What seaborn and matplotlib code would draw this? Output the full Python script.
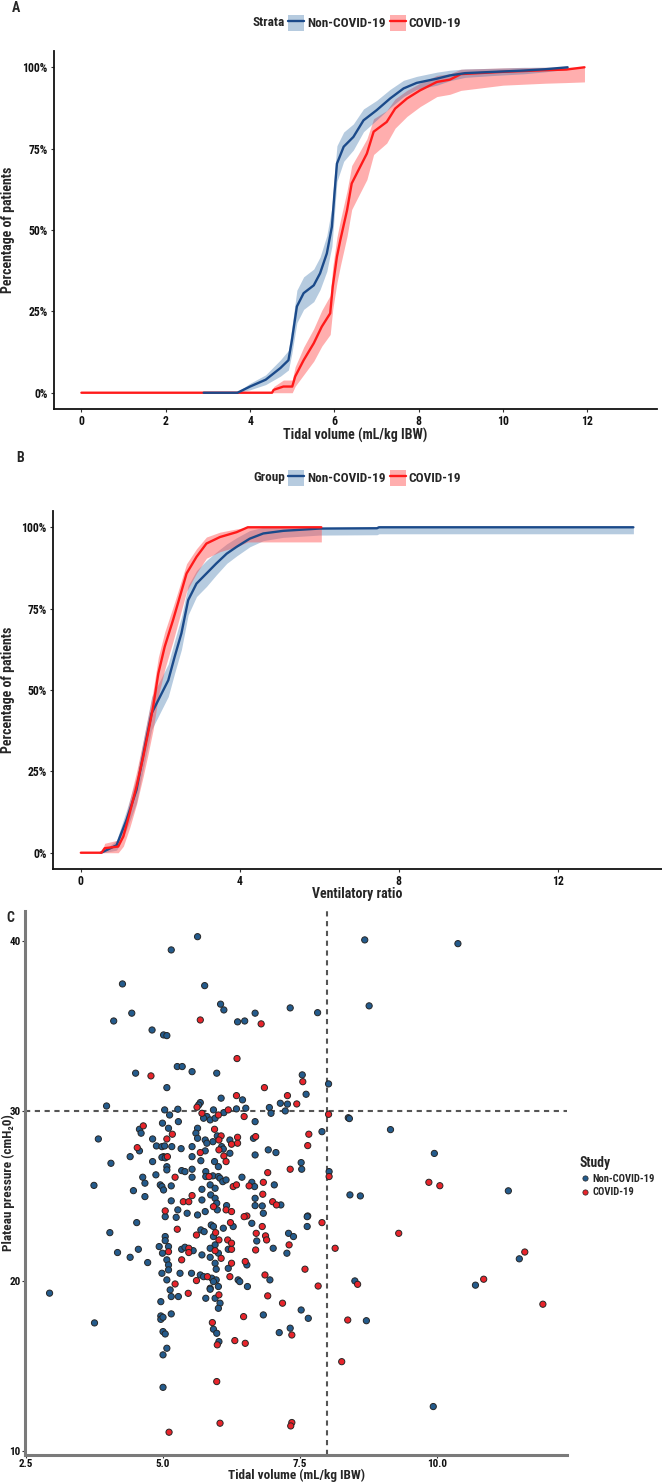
import matplotlib
matplotlib.use("Agg")
import numpy as np
import pandas as pd
import matplotlib.pyplot as plt
import seaborn as sns
from matplotlib.lines import Line2D
from matplotlib.patches import Patch
from matplotlib import font_manager as fm

# ---------------- Panel A: tidal volume cumulative curves (%) ----------------
a_nc_x = [2.9, 3.7, 4.0, 4.37, 4.72, 4.91, 4.99, 5.11, 5.27, 5.51, 5.66, 5.82, 5.94, 6.0, 6.06,
          6.22, 6.45, 6.69, 7.0, 7.32, 7.64, 7.95, 8.43, 8.74, 9.1, 9.8, 10.5, 11.0, 11.53]
a_nc_y = [0, 0, 1.9, 4, 7.6, 10, 16, 26.5, 30.6, 33, 36.7, 42.8, 51, 61, 70.4, 75.6, 78.6, 83.7,
          86.8, 90.4, 93.5, 95.2, 96.5, 97.5, 98.2, 98.6, 99, 99.4, 100]
a_nc_lo = [0, 0, 0.9, 2.5, 5.1, 7, 12, 21.5, 25.6, 28, 31.7, 37.3, 45, 55, 64.9, 71.1, 74.6, 80.2,
           83.8, 87.6, 91, 93.2, 94.5, 95.9, 96.9, 97.5, 98, 98.6, 99.4]
a_nc_hi = [0, 0.3, 2.9, 5.5, 10.1, 13, 20, 31.5, 35.6, 38, 41.7, 48.3, 57, 67, 75.9, 80.1, 82.6,
           87.2, 89.8, 93.2, 96, 97.2, 98.5, 99.1, 99.5, 99.7, 100, 100, 100]

a_cv_x = [0, 4.52, 4.56, 4.79, 5.0, 5.07, 5.27, 5.51, 5.70, 5.90, 5.96, 6.06, 6.14, 6.3, 6.41,
          6.57, 6.77, 6.93, 7.24, 7.44, 7.72, 8.03, 8.43, 8.74, 9.0, 10.0, 11.0, 11.5, 11.93]
a_cv_y = [0, 0, 0.9, 1.9, 1.9, 5, 10, 15.2, 20.3, 24.4, 32.6, 41.8, 46.9, 56.1, 64.3, 68.4, 73.5,
          80.2, 83.2, 87.3, 90.4, 92.9, 95.5, 96.2, 97.9, 98.6, 99.1, 99.3, 100]
a_cv_lo = [0, 0, 0, 0, 0, 2, 5.5, 9.7, 14.3, 17.9, 25.6, 33.8, 38.9, 48.1, 56.3, 60.4, 65.5, 73.2,
           76.7, 81.3, 84.9, 87.9, 91, 91.7, 92.9, 94.5, 95.1, 95.3, 95.5]
a_cv_hi = [0, 0, 1.9, 3.9, 3.9, 8, 14, 19.7, 25.3, 29.9, 38.6, 47.8, 52.9, 62.1, 69.8, 73.4, 78,
           84.2, 86.7, 90.3, 92.9, 95.1, 97.5, 98, 99.4, 99.8, 100, 100, 100]

# ---------------- Panel B: ventilatory ratio cumulative curves (%) ----------------
b_nc_x = [0.5, 0.56, 0.9, 1.15, 1.40, 1.61, 1.78, 1.99, 2.2, 2.36, 2.53, 2.7, 2.91, 3.16, 3.41,
          3.67, 3.92, 4.25, 4.59, 5.09, 6.0, 7.45, 7.5, 13.9]
b_nc_y = [0, 0.3, 2.3, 10.1, 19.3, 32.6, 42.8, 47.9, 53, 60.2, 67.4, 77.6, 82.7, 85.8, 88.9, 91.9,
          94, 96.5, 98.1, 98.9, 99.6, 99.7, 100, 100]
b_nc_lo = [0, 0, 0.8, 7.1, 15.3, 28.1, 37.8, 42.9, 48, 55.2, 62.4, 73.1, 78.7, 81.8, 85.4, 88.9,
           91.2, 94, 95.9, 96.9, 97.6, 97.7, 98, 98]
b_nc_hi = [0, 0.6, 3.8, 13.1, 23.3, 37.1, 47.8, 52.9, 58, 65.2, 72.4, 82.1, 86.7, 89.8, 92.4, 94.9,
           96.8, 99, 100, 100, 100, 100, 100, 100]

b_cv_x = [0, 0.52, 0.6, 0.94, 1.07, 1.23, 1.40, 1.57, 1.69, 1.82, 1.95, 2.11, 2.32, 2.49, 2.66,
          2.91, 3.16, 3.5, 3.92, 4.2, 6.05]
b_cv_y = [0, 0, 1.4, 1.9, 5, 12.2, 20.3, 29.5, 36.7, 44.9, 55.1, 63.3, 71.5, 78.6, 85.8, 90.9, 95,
          97, 98.5, 100, 100]
b_cv_lo = [0, 0, 0, 0, 2, 7.7, 14.8, 23.5, 30.2, 37.9, 48.1, 56.3, 65, 72.6, 80.3, 85.9, 90.5,
           92.5, 94, 95.5, 95.5]
b_cv_hi = [0, 0, 2.9, 3.9, 8, 16.2, 24.8, 34.5, 41.7, 49.9, 60.1, 67.8, 75.5, 82.1, 88.8, 93.4,
           97, 98.5, 99.5, 100, 100]

pct_ticks = [0, 25, 50, 75, 100]
pct_labels = ["0%", "25%", "50%", "75%", "100%"]
a_xticks = [0, 2, 4, 6, 8, 10, 12]
b_xticks = [0, 4, 8, 12]

# ---------------- Panel C: plateau pressure vs tidal volume ----------------
nc_tv = [5.63, 5.15, 8.68, 10.38, 4.26, 5.76, 8.76, 6.05, 6.11, 7.32, 7.82, 4.43, 4.10, 6.36, 6.49,
         6.68, 4.80, 5.01, 5.07, 4.50, 5.26, 5.35, 5.53, 5.98, 7.54, 5.07, 7.61, 8.02, 6.45, 6.06,
         3.97, 5.68, 5.65, 5.03, 5.27, 5.92, 6.34, 6.51, 6.94, 7.14, 7.27, 7.23, 6.97, 8.38, 5.12,
         5.28, 5.80, 5.74, 5.86, 5.95, 6.11, 6.68, 4.99, 4.57, 4.60, 5.10, 5.63, 5.60, 5.99, 7.90,
         4.81, 5.63, 5.77, 5.91, 6.22, 6.65, 6.07, 6.10, 5.80, 4.57, 4.88, 4.98, 5.03, 5.16, 5.33,
         5.53, 5.77, 6.92, 7.06, 6.68, 4.40, 4.05, 4.81, 5.01, 4.98, 5.04, 5.53, 5.69, 5.94, 6.01,
         6.22, 7.52, 7.53, 5.07, 5.07, 5.34, 5.40, 5.53, 4.87, 5.53, 5.78, 5.78, 5.91, 6.01, 6.04,
         6.09, 6.15, 6.44, 4.63, 4.67, 4.95, 4.98, 5.15, 5.01, 5.71, 5.86, 5.95, 6.62, 6.67, 7.03,
         4.46, 4.67, 5.15, 5.71, 5.87, 5.95, 5.98, 5.99, 6.16, 6.68, 6.68, 6.81, 7.15, 5.27, 5.44,
         5.63, 5.77, 6.83, 7.64, 8.41, 8.03,
         4.52, 4.03, 4.17, 4.40, 4.55, 4.72, 5.04, 5.24, 5.04, 5.04, 4.93, 5.10, 4.99, 5.34, 5.07,
         5.10, 5.10, 4.98, 5.07, 5.13, 5.15, 5.28, 5.31, 4.96, 4.96, 4.96, 5.00, 5.15, 5.00, 5.04,
         5.07, 5.00, 5.00,
         5.88, 5.92, 5.92, 5.95, 5.86, 6.01, 5.86, 5.95, 5.97, 5.89, 5.97, 5.92, 5.86, 6.01, 5.95,
         6.04, 6.01, 5.92, 5.98, 6.02,
         5.69, 5.75, 5.40, 5.55, 5.71, 5.52, 5.68, 5.74, 5.78, 5.86, 6.19, 6.19, 6.10, 6.28, 6.37,
         6.40, 6.53, 6.54, 6.62, 6.71, 7.01, 6.95, 6.83, 7.26, 7.29, 7.38, 7.52, 7.65, 7.32, 7.12,
         7.63, 7.63, 8.50,
         3.82, 3.74, 2.93, 3.75, 8.71, 9.93, 9.15, 9.95, 11.3, 10.7, 11.5, 8.6, 8.40]
nc_pp = [40.25, 39.47, 40.06, 39.84, 37.47, 37.37, 36.18, 36.28, 35.94, 36.06, 35.78, 35.75, 35.29,
         35.24, 35.29, 35.75, 34.76, 34.47, 34.43, 32.22, 32.61, 32.61, 32.31, 32.22, 32.12, 31.37,
         30.98, 31.59, 30.65, 30.75, 30.29, 30.49, 30.35, 30.06, 30.10, 30.06, 30.12, 30.16, 30.20,
         30.45, 30.40, 30.00, 29.86, 29.60, 29.76, 29.37, 29.67, 29.57, 29.47, 29.57, 29.90, 29.37,
         29.28, 28.92, 28.69, 28.98, 28.98, 28.69, 28.53, 28.78, 28.35, 28.39, 28.29, 28.19, 28.29,
         28.39, 27.90, 27.76, 28.10, 27.65, 27.94, 27.90, 27.94, 27.90, 27.78, 27.90, 27.65, 27.71,
         27.55, 27.41, 27.31, 26.92, 27.02, 27.31, 27.27, 27.24, 27.31, 27.07, 27.02, 26.72, 27.51,
         26.96, 26.57, 26.72, 26.53, 26.49, 26.43, 26.57, 26.24, 26.10, 26.43, 26.14, 26.18, 26.14,
         26.04, 25.84, 25.94, 26.10, 26.10, 25.75, 25.65, 25.55, 25.59, 25.35, 25.39, 25.65, 25.45,
         25.80, 25.55, 25.65, 25.31, 24.96, 24.71, 24.76, 25.06, 24.86, 24.57, 24.18, 24.43, 24.86,
         24.43, 24.41, 24.47, 24.18, 23.98, 23.88, 24.08, 23.98, 23.82, 25.06, 26.43,
         23.43, 22.84, 21.67, 21.39, 21.86, 21.08, 23.78, 23.74, 22.61, 22.37, 22.02, 22.02, 21.63,
         21.86, 21.24, 20.94, 20.65, 20.45, 20.06, 19.47, 19.08, 19.08, 20.45, 18.78, 17.94, 17.74,
         17.86, 18.06, 17.02, 16.88, 16.04, 15.65, 13.74,
         23.29, 23.20, 22.61, 22.12, 21.92, 21.63, 21.39, 21.04, 20.69, 20.16, 20.06, 19.96, 19.57,
         19.67, 18.98, 18.69, 18.39, 17.16, 16.92, 16.43,
         23.0, 22.9, 21.98, 21.78, 21.53, 20.45, 20.35, 20.25, 18.98, 19.51, 20.74, 21.86, 23.1,
         23.2, 20.06, 19.96, 20.94, 19.67, 23.39, 22.35, 21.92, 20.06, 18.0, 21.63, 22.8, 22.61,
         18.29, 17.8, 17.22, 16.96, 23.78, 23.2, 20.0,
         28.35, 25.62, 19.28, 17.53, 17.66, 12.61, 28.9, 27.5, 25.3, 19.75, 21.3, 25.0, 29.55]

cv_tv = [5.68, 6.79, 6.35, 4.78, 6.85, 7.55, 7.27, 6.34, 5.62, 6.19, 7.44, 8.02, 6.01, 5.71, 6.48,
         4.64, 5.17, 5.94, 6.06, 7.66, 5.07, 6.02, 6.36, 6.69, 6.25, 6.36, 6.02, 7.64, 4.53, 5.68,
         5.08, 6.11, 6.15, 7.32, 5.22, 5.84, 6.91, 6.28, 6.34, 6.83, 6.82, 6.57, 5.37, 5.47, 5.53,
         5.92, 6.15, 7.00, 7.07, 5.04, 6.25, 6.53, 8.03,
         5.26, 5.10, 5.34, 5.47, 5.47, 5.22, 5.46, 5.11,
         5.96, 6.02, 5.95, 6.06, 6.02, 5.90, 5.99, 5.98, 6.04,
         5.61, 5.61, 5.81, 6.22, 6.25, 6.25, 6.18, 6.25, 6.23, 6.48, 6.50, 6.47, 6.31, 6.50, 6.70,
         6.69, 6.81, 6.87, 6.89, 6.86, 6.91, 7.18, 7.30, 7.35, 7.35, 7.33, 7.59, 7.83, 7.90, 8.14,
         8.26, 8.37, 8.55,
         11.93, 9.85, 10.05, 9.3, 10.85, 11.6]
cv_pp = [35.35, 35.12, 33.08, 32.06, 31.37, 31.72, 30.90, 30.90, 30.22, 30.06, 30.41, 29.80, 29.76,
         29.86, 29.67, 29.12, 28.63, 28.92, 28.53, 28.63, 28.35, 28.29, 28.45, 28.49, 28.04, 28.10,
         27.71, 27.96, 27.84, 27.55, 27.31, 27.35, 27.02, 26.57, 26.10, 26.14, 26.37, 25.55, 25.65,
         25.80, 25.10, 25.59, 24.66, 24.66, 25.02, 24.37, 24.18, 24.66, 24.47, 24.12, 24.08, 23.82,
         26.14,
         23.04, 21.72, 21.24, 21.92, 21.67, 19.82, 19.27, 11.1,
         22.84, 22.41, 21.78, 21.33, 19.18, 17.55, 16.24, 14.08, 11.63,
         22.7, 20.02, 20.25, 20.25, 21.04, 21.86, 22.41, 22.22, 23.43, 23.78, 21.14, 17.9, 16.49,
         16.33, 22.8, 21.82, 23.2, 22.65, 22.41, 20.35, 19.12, 18.69, 22.12, 16.82, 11.67, 11.47,
         20.69, 19.7, 23.43, 21.92, 15.25, 17.7, 19.8,
         18.63, 25.8, 25.6, 22.8, 20.1, 21.7]

c_xticks = [2.5, 5.0, 7.5, 10.0]
c_xlabels = ["2.5", "5.0", "7.5", "10.0"]
c_yticks = [10, 20, 30, 40]
study_labels = ["Non-COVID-19", "COVID-19"]

# ---------------- style ----------------
sns.set_theme(style="white")
names = {f.name for f in fm.fontManager.ttflist}
main_font = next((n for n in ["Liberation Sans Narrow", "Roboto Condensed", "DejaVu Sans Condensed"]
                  if n in names), "DejaVu Sans")
plt.rcParams["font.family"] = [main_font, "DejaVu Sans"]
plt.rcParams["font.weight"] = "bold"
plt.rcParams["axes.labelweight"] = "bold"

BLUE_LINE = "#1b4a8a"
BLUE_BAND = "#2e6aa6"
RED_LINE = "#ff1a1a"
RED_BAND = "#ff4d4d"
BLUE_PT = "#245b8c"
RED_PT = "#e8242b"

W, H = 662, 1483
fig = plt.figure(figsize=(W / 100, H / 100), dpi=100)


def rect(l, t, r, b):
    return [l / W, 1 - b / H, (r - l) / W, (b - t) / H]


def style_axes(ax, spine_color, spine_lw, labelsize=8.5, pad=2, length=2.5):
    for s in ["top", "right"]:
        ax.spines[s].set_visible(False)
    for s in ["left", "bottom"]:
        ax.spines[s].set_visible(True)
        ax.spines[s].set_color(spine_color)
        ax.spines[s].set_linewidth(spine_lw)
    ax.tick_params(axis="both", which="both", bottom=True, left=True, length=length, width=0.8,
                   color="#333333", labelsize=labelsize, pad=pad, labelcolor="#111111")
    for lab in ax.get_xticklabels() + ax.get_yticklabels():
        lab.set_fontweight("bold")


def curve_panel(ax, curves, xlim, xticks, xlabel, xlab_gap, order):
    for (x, y, lo, hi, lc, bc, ba) in curves:
        ax.fill_between(x, lo, hi, color=bc, alpha=ba, lw=0, zorder=1)
    for i in order:
        x, y, lo, hi, lc, bc, ba = curves[i]
        sns.lineplot(x=np.array(x), y=np.array(y), ax=ax, color=lc, lw=1.7,
                     estimator=None, sort=False, legend=False, zorder=3)
    ax.set_xlim(*xlim)
    ax.set_ylim(-5, 105)
    ax.set_xticks(xticks)
    ax.set_xticklabels([str(t) for t in xticks])
    ax.set_yticks(pct_ticks)
    ax.set_yticklabels(pct_labels)
    style_axes(ax, "#111111", 1.3)
    ax.set_xlabel(xlabel, fontsize=10, fontweight="bold")
    ax.set_ylabel("Percentage of patients", fontsize=10, fontweight="bold")
    ax.xaxis.set_label_coords(0.5, -xlab_gap / 358)


def curve_legend(title, ycen):
    handles = [(Patch(facecolor=BLUE_BAND, alpha=0.35, edgecolor="none"),
                Line2D([], [], color=BLUE_LINE, lw=1.7)),
               (Patch(facecolor=RED_BAND, alpha=0.45, edgecolor="none"),
                Line2D([], [], color=RED_LINE, lw=1.7))]
    fig.legend(handles, study_labels, loc="center left",
               bbox_to_anchor=(288 / W, 1 - ycen / H), ncol=2, frameon=False,
               prop={"size": 9.5, "weight": "bold"}, handlelength=1.25, handleheight=1.5,
               handletextpad=0.2, columnspacing=0.3, borderpad=0, borderaxespad=0)
    fig.text(285 / W, 1 - ycen / H, title, ha="right", va="center", fontsize=9.5,
             fontweight="bold")


# Panel A
axA = fig.add_axes(rect(54, 51, 657, 409))
curve_panel(axA,
            [(a_cv_x, a_cv_y, a_cv_lo, a_cv_hi, RED_LINE, RED_BAND, 0.45),
             (a_nc_x, a_nc_y, a_nc_lo, a_nc_hi, BLUE_LINE, BLUE_BAND, 0.35)],
            (-0.65, 13.65), a_xticks, "Tidal volume (mL/kg IBW)", 19, order=[0, 1])
axA.yaxis.set_label_coords(-39 / 603, 0.5)
curve_legend("Strata", 23)
fig.text(12 / W, 1 - 8 / H, "A", fontsize=10, fontweight="bold", va="center")

# Panel B
axB = fig.add_axes(rect(53, 511, 662, 869))
curve_panel(axB,
            [(b_nc_x, b_nc_y, b_nc_lo, b_nc_hi, BLUE_LINE, BLUE_BAND, 0.35),
             (b_cv_x, b_cv_y, b_cv_lo, b_cv_hi, RED_LINE, RED_BAND, 0.45)],
            (-0.70, 14.62), b_xticks, "Ventilatory ratio", 18, order=[0, 1])
axB.yaxis.set_label_coords(-38 / 609, 0.5)
curve_legend("Group", 478)
fig.text(16 / W, 1 - 458 / H, "B", fontsize=10, fontweight="bold", va="center")

# Panel C
C_TOP, C_BOT = 911, 1455
axC = fig.add_axes(rect(25, C_TOP, 567, C_BOT))
df = pd.DataFrame({
    "tv": nc_tv + cv_tv,
    "pp": nc_pp + cv_pp,
    "Study": [study_labels[0]] * len(nc_tv) + [study_labels[1]] * len(cv_tv),
})
axC.axhline(30, color="#555555", lw=1.5, ls=(0, (2.5, 2.2)), zorder=1)
axC.axvline(8, color="#555555", lw=1.5, ls=(0, (2.5, 2.2)), zorder=1)
sns.scatterplot(data=df, x="tv", y="pp", hue="Study",
                palette={study_labels[0]: BLUE_PT, study_labels[1]: RED_PT},
                s=20, edgecolor="#262626", linewidth=0.7, legend=False, ax=axC, zorder=3)
axC.set_xlim(2.482, 12.37)
axC.set_ylim(9.76, 41.76)
axC.set_xticks(c_xticks)
axC.set_xticklabels(c_xlabels)
axC.set_yticks(c_yticks)
axC.set_yticklabels([str(t) for t in c_yticks])
style_axes(axC, "#7a7a7a", 2.2, labelsize=8, pad=1.2, length=2)
axC.set_xlabel("Tidal volume (mL/kg IBW)", fontsize=9.5, fontweight="bold")
axC.set_ylabel("Plateau pressure (cmH\u20820)", fontsize=9.5, fontweight="bold")
axC.xaxis.set_label_coords(0.5, -14 / (C_BOT - C_TOP))
axC.yaxis.set_label_coords(-10 / 542, 0.5)
fig.text(6 / W, 1 - 918 / H, "C", fontsize=10, fontweight="bold", va="center")

c_handles = [Line2D([], [], marker="o", ls="", markerfacecolor=BLUE_PT, markeredgecolor="#262626",
                    markeredgewidth=0.5, markersize=3.8),
             Line2D([], [], marker="o", ls="", markerfacecolor=RED_PT, markeredgecolor="#262626",
                    markeredgewidth=0.5, markersize=3.8)]
legC = fig.legend(c_handles, study_labels, title="Study", loc="upper left",
                  bbox_to_anchor=(580 / W, 1 - 1156 / H), frameon=False,
                  prop={"size": 7.6, "weight": "bold"},
                  title_fontproperties={"size": 9.8, "weight": "bold"},
                  handlelength=1.0, handletextpad=0.2, labelspacing=0.35, borderpad=0,
                  borderaxespad=0)
legC._legend_box.align = "left"

fig.savefig("out.png", dpi=100)
